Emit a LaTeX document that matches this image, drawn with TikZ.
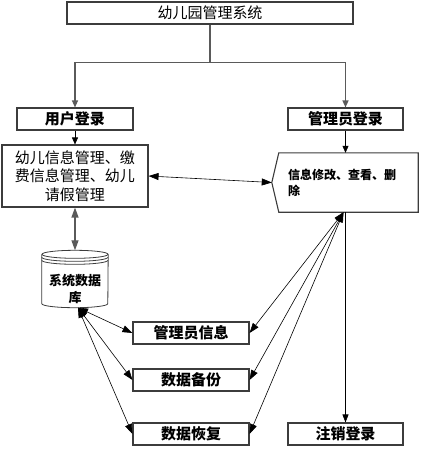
\documentclass[tikz,border=0pt]{standalone}
\usepackage{fontspec}
\usetikzlibrary{positioning, arrows.meta, calc}
\newfontfamily\cjk{Noto Sans CJK SC}
\newcommand\bigcjk{\cjk\fontsize{15}{18.5}\selectfont}
\newcommand\midcjk{\cjk\fontsize{13}{17}\selectfont\bfseries}
\newcommand\smallcjk{\cjk\fontsize{12}{16}\selectfont\bfseries}
\definecolor{cL}{RGB}{90,90,90}
\definecolor{cB}{RGB}{60,60,60}

\begin{document}
\begin{tikzpicture}[x=1pt, y=-1pt,
    box/.style={draw=cB, line width=1.1pt, minimum height=22pt, inner sep=0pt, font=\bigcjk\bfseries},
    tree/.style={draw=cL, line width=1.3pt, -{Triangle[length=7pt,width=6pt]}},
    link/.style={draw=black, line width=0.6pt, {Triangle[length=10pt,width=7pt]}-{Triangle[length=10pt,width=7pt]}},
    dbline/.style={draw=cB, line width=0.8pt}]
    \useasboundingbox (0,0) rectangle (421,451);

    \node[box, font=\bigcjk, minimum width=286pt] (sys) at (210,13) {幼儿园管理系统};
    \node[box, minimum width=116pt] (user) at (75,119) {用户登录};
    \node[box, minimum width=115pt] (admin) at (345.5,119) {管理员登录};
    \node[box, font=\bigcjk, minimum width=146pt, minimum height=62pt, align=center] (mgmt) at (75,176) {幼儿信息管理、缴\\费信息管理、幼儿\\请假管理};
    \node[minimum width=139pt, minimum height=59pt, text width=121pt, inner xsep=9pt, align=left, font=\smallcjk] (edit) at (348.5,182.5) {信息修改、查看、删\\除};
    \coordinate (editTip) at ([xshift=-7pt]edit.west);
    \draw[draw=cB, line width=1.1pt] (edit.north west) -- (edit.north east) -- (edit.south east) -- (edit.south west) -- (editTip) -- cycle;

    % database drum
    \node[minimum width=66pt, minimum height=57pt, inner sep=0pt] (db) at (75,279) {};
    \node[font=\midcjk, align=center, inner sep=0pt] (dbText) at (75,288.5) {系统数据\\库};
    \draw[dbline] ([yshift=-4pt]db.north west) -- ([yshift=4pt]db.south west) arc[start angle=180, end angle=360, x radius=33pt, y radius=4pt] -- ([yshift=-4pt]db.north east);
    \draw[dbline] ([yshift=-4pt]db.north) ellipse[x radius=33pt, y radius=4pt];
    \draw[dbline] ([yshift=-7pt]db.north west) arc[start angle=180, end angle=360, x radius=33pt, y radius=4pt];
    \draw[dbline] ([yshift=-10pt]db.north west) arc[start angle=180, end angle=360, x radius=33pt, y radius=4pt];

    \node[box, minimum width=116pt] (info) at (191,333) {管理员信息};
    \node[box, minimum width=116pt] (backup) at (191,380) {数据备份};
    \node[box, minimum width=116pt] (restore) at (191,434) {数据恢复};
    \node[box, minimum width=115pt] (logout) at (345.5,434) {注销登录};

    \draw[tree] (sys.south) -- ++(0,38) -| (user.north);
    \draw[tree] (sys.south) -- ++(0,38) -| (admin.north);
    \draw[link, -{Triangle[length=7pt,width=6pt]}] (user.south) -- (mgmt.north);
    \draw[link, -{Triangle[length=7pt,width=6pt]}] (admin.south) -- (admin.south |- edit.north);
    \draw[link] (mgmt.east) -- (editTip);
    \draw[link, draw=cL, line width=1.3pt] (mgmt.south) -- (db.north);

    \draw[link] ([xshift=3pt]db.south) -- (info.west);
    \draw[link] ([xshift=3pt]db.south) -- (backup.west);
    \draw[link] ([xshift=3pt]db.south) -- (restore.west);
    \draw[link] ([xshift=-5pt]edit.south) -- (info.east);
    \draw[link] ([xshift=-5pt]edit.south) -- (backup.east);
    \draw[link] ([xshift=-5pt]edit.south) -- (restore.east);
    \draw[link, -{Triangle[length=8pt,width=6pt]}] (logout.north |- edit.south) -- (logout.north);
\end{tikzpicture}
\end{document}
